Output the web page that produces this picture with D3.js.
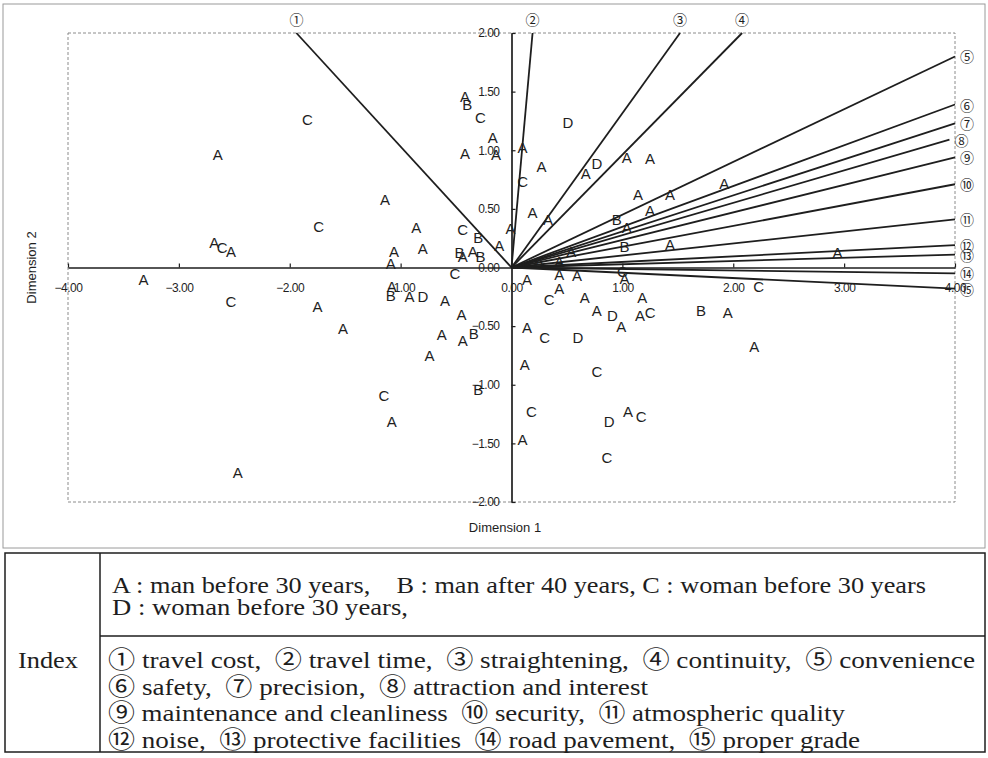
<!DOCTYPE html>
<html>
<head>
<meta charset="utf-8">
<script src="https://cdn.jsdelivr.net/npm/d3@7"></script>
<style>
  body { margin: 0; background: #fff; }
  svg { display: block; }
</style>
</head>
<body>
<div id="chart"></div>
<script>
// Respondent groups (letters) and their coordinates on the two dimensions
const pointGroups = [
  "A","C","A","B","C","A","A","A","A","C","A","C","B","A","A","A","C","A","A","A",
  "A","B","A","A","B","C","A","C","A","A","A","B","A","D","A","A","A","A","B","A",
  "B","C","A","A","A","A","A","A","C","A","A","A","A","D","A","A","C","B","A","C",
  "A","A","C","D","A","C","C","D","A","C","A","C","A","D","A","A","C","A","D","A",
  "A","A","A","A","A","A","A","B","A","B","A","A","A","A","C"
];
const pointDim1 = [
  -2.65,-1.84,-0.42,-0.40,-0.28,-0.17,-0.42,-0.14,-1.14,-1.74,-0.86,-0.44,-0.30,-0.01,-0.11,-2.68,-2.61,-2.53,-1.06,-0.80,
  -1.09,-0.47,-0.44,-0.35,-0.28,-0.51,-3.32,-2.53,-1.75,-1.52,-1.08,-1.09,-0.92,-0.80,-0.60,-0.45,-0.63,-0.44,-0.34,-0.74,
  -0.30,-1.15,-1.08,-2.47, 0.14, 0.43, 0.59, 1.02, 0.34, 0.43, 0.66, 1.18, 0.77, 0.91, 0.99, 1.16, 1.25, 1.71, 1.95, 2.23,
   2.19, 0.14, 0.30, 0.60, 0.12, 0.77, 0.18, 0.88, 1.05, 1.17, 0.10, 0.86, 2.94, 0.51, 0.10, 0.27, 0.10, 0.67, 0.77, 1.04,
   1.25, 1.92, 1.14, 1.43, 1.25, 0.19, 0.33, 0.95, 1.04, 1.02, 1.43, 0.54, 0.25, 0.43, 1.00
];
const pointDim2 = [
   0.96, 1.26, 1.46, 1.39, 1.28, 1.11, 0.97, 0.96, 0.58, 0.35, 0.34, 0.32, 0.26, 0.33, 0.19, 0.21, 0.17, 0.14, 0.14, 0.16,
   0.03, 0.13, 0.09, 0.14, 0.09,-0.05,-0.10,-0.29,-0.33,-0.52,-0.16,-0.24,-0.25,-0.25,-0.28,-0.40,-0.57,-0.62,-0.56,-0.75,
  -1.04,-1.09,-1.31,-1.75,-0.10,-0.06,-0.07,-0.09,-0.27,-0.18,-0.26,-0.26,-0.37,-0.41,-0.50,-0.41,-0.38,-0.37,-0.38,-0.16,
  -0.67,-0.51,-0.60,-0.60,-0.83,-0.89,-1.23,-1.31,-1.23,-1.27,-1.47,-1.62, 0.13, 1.24, 1.02, 0.86, 0.73, 0.80, 0.89, 0.94,
   0.93, 0.72, 0.62, 0.62, 0.49, 0.47, 0.41, 0.41, 0.34, 0.18, 0.20, 0.14, 0.04, 0.05,-0.03
];

// Attribute vectors (end points of the lines from the origin)
const vectorNames = ["①","②","③","④","⑤","⑥","⑦","⑧","⑨","⑩","⑪","⑫","⑬","⑭","⑮"];
const vectorDim1 = [-1.94, 0.19, 1.52, 2.08, 4.00, 4.00, 4.00, 3.95, 4.00, 4.00, 4.00, 4.00, 4.00, 4.00, 4.00];
const vectorDim2 = [ 2.00, 2.00, 2.00, 2.00, 1.80, 1.39, 1.23, 1.09, 0.94, 0.71, 0.41, 0.19, 0.11,-0.05,-0.18];

// Axis ticks
const xTicks = [-4, -3, -2, -1, 0, 1, 2, 3, 4];
const yTicks = [-2, -1.5, -1, -0.5, 0, 0.5, 1, 1.5, 2];

// Index table text
const groupLines = [
  "A : man before 30 years,    B : man after 40 years, C : woman before 30 years",
  "D : woman before 30 years,"
];
const indexLines = [
  "① travel cost,  ② travel time,  ③ straightening,  ④ continuity,  ⑤ convenience",
  "⑥ safety,  ⑦ precision,  ⑧ attraction and interest",
  "⑨ maintenance and cleanliness  ⑩ security,  ⑪ atmospheric quality",
  "⑫ noise,  ⑬ protective facilities  ⑭ road pavement,  ⑮ proper grade"
];

const width = 988, height = 758;
const ink = "#1e1e1e";

const svg = d3.select("#chart").append("svg")
  .attr("width", width)
  .attr("height", height);

svg.append("rect").attr("width", width).attr("height", height).attr("fill", "#fff");

// outer frame of the figure
svg.append("rect")
  .attr("x", 3).attr("y", 4).attr("width", 982).attr("height", 544)
  .attr("fill", "none").attr("stroke", "#9a9a9a").attr("stroke-width", 1);

const x = d3.scaleLinear().domain([-4, 4]).range([68, 955]);
const y = d3.scaleLinear().domain([-2, 2]).range([502, 33]);

// dotted plot border
svg.append("rect")
  .attr("x", x(-4)).attr("y", y(2))
  .attr("width", x(4) - x(-4)).attr("height", y(-2) - y(2))
  .attr("fill", "none").attr("stroke", "#8c8c8c")
  .attr("stroke-width", 1).attr("stroke-dasharray", "3,2");

// axes crossing at the origin
const fmt = d3.format(".2f");
const xAxis = svg.append("g")
  .attr("transform", `translate(0,${y(0)})`)
  .call(d3.axisBottom(x).tickValues(xTicks).tickFormat(fmt)
    .tickSizeInner(-4).tickSizeOuter(0).tickPadding(16));

const yAxis = svg.append("g")
  .attr("transform", `translate(${x(0)},0)`)
  .call(d3.axisLeft(y).tickValues(yTicks).tickFormat(fmt)
    .tickSizeInner(-4).tickSizeOuter(0).tickPadding(12));

[xAxis, yAxis].forEach(g => {
  g.select(".domain").attr("stroke", ink).attr("stroke-width", 1.7);
  g.selectAll(".tick line").attr("stroke", ink).attr("stroke-width", 1.2);
  g.selectAll(".tick text")
    .attr("fill", ink)
    .style("font-family", "'Liberation Sans', Arial, sans-serif")
    .style("font-size", "12px")
    .style("letter-spacing", "-0.5px");
});

// attribute vectors
const vectors = vectorNames.map((name, i) => ({ name, d1: vectorDim1[i], d2: vectorDim2[i] }));

svg.append("g").selectAll("line")
  .data(vectors)
  .enter()
  .append("line")
  .attr("x1", x(0)).attr("y1", y(0))
  .attr("x2", d => x(d.d1)).attr("y2", d => y(d.d2))
  .attr("stroke", ink).attr("stroke-width", 1.8);

svg.append("g").selectAll("text")
  .data(vectors)
  .enter()
  .append("text")
  .attr("x", d => d.d2 >= 2 ? x(d.d1) : x(d.d1) + 12)
  .attr("y", d => d.d2 >= 2 ? y(d.d2) - 14 : y(d.d2))
  .attr("text-anchor", "middle")
  .attr("dominant-baseline", "central")
  .attr("fill", ink)
  .style("font-family", "'Noto Sans CJK KR', 'DejaVu Sans', sans-serif")
  .style("font-size", "14px")
  .text(d => d.name);

// respondent letters
const points = pointGroups.map((g, i) => ({ g, d1: pointDim1[i], d2: pointDim2[i] }));

svg.append("g").selectAll("text")
  .data(points)
  .enter()
  .append("text")
  .attr("x", d => x(d.d1))
  .attr("y", d => y(d.d2))
  .attr("text-anchor", "middle")
  .attr("dominant-baseline", "central")
  .attr("fill", ink)
  .style("font-family", "'Liberation Sans', Arial, sans-serif")
  .style("font-size", "15px")
  .text(d => d.g);

// axis titles
svg.append("text")
  .attr("x", 505).attr("y", 532)
  .attr("text-anchor", "middle")
  .attr("fill", ink)
  .style("font-family", "'Liberation Sans', Arial, sans-serif")
  .style("font-size", "13px")
  .text("Dimension 1");

svg.append("text")
  .attr("transform", `translate(36,${y(0)}) rotate(-90)`)
  .attr("text-anchor", "middle")
  .attr("fill", ink)
  .style("font-family", "'Liberation Sans', Arial, sans-serif")
  .style("font-size", "13px")
  .text("Dimension 2");

// Index table below the chart
const table = svg.append("g");
const serif = "'Liberation Serif', 'Noto Sans CJK KR', serif";

table.append("rect")
  .attr("x", 5).attr("y", 553).attr("width", 980).attr("height", 199)
  .attr("fill", "none").attr("stroke", ink).attr("stroke-width", 1.5);
table.append("line")
  .attr("x1", 100).attr("x2", 100).attr("y1", 553).attr("y2", 752)
  .attr("stroke", ink).attr("stroke-width", 1.5);
table.append("line")
  .attr("x1", 100).attr("x2", 985).attr("y1", 636).attr("y2", 636)
  .attr("stroke", ink).attr("stroke-width", 1.5);

table.append("text")
  .attr("x", 18).attr("y", 668)
  .attr("textLength", 60)
  .attr("lengthAdjust", "spacingAndGlyphs")
  .attr("fill", ink)
  .style("font-family", serif).style("font-size", "23px")
  .text("Index");

const groupWidths = [814, 296];
table.selectAll(".grp")
  .data(groupLines)
  .enter()
  .append("text")
  .attr("class", "grp")
  .attr("x", 112)
  .attr("y", (d, i) => 593 + i * 22)
  .attr("textLength", (d, i) => groupWidths[i])
  .attr("lengthAdjust", "spacingAndGlyphs")
  .attr("fill", ink)
  .style("font-family", serif).style("font-size", "24px")
  .style("white-space", "pre")
  .text(d => d);

const indexWidths = [867, 540, 737, 752];
table.selectAll(".idx")
  .data(indexLines)
  .enter()
  .append("text")
  .attr("class", "idx")
  .attr("x", 108)
  .attr("y", (d, i) => 668 + i * 26.5)
  .attr("textLength", (d, i) => indexWidths[i])
  .attr("lengthAdjust", "spacingAndGlyphs")
  .attr("fill", ink)
  .style("font-family", serif).style("font-size", "24px")
  .style("white-space", "pre")
  .text(d => d);
</script>
</body>
</html>
